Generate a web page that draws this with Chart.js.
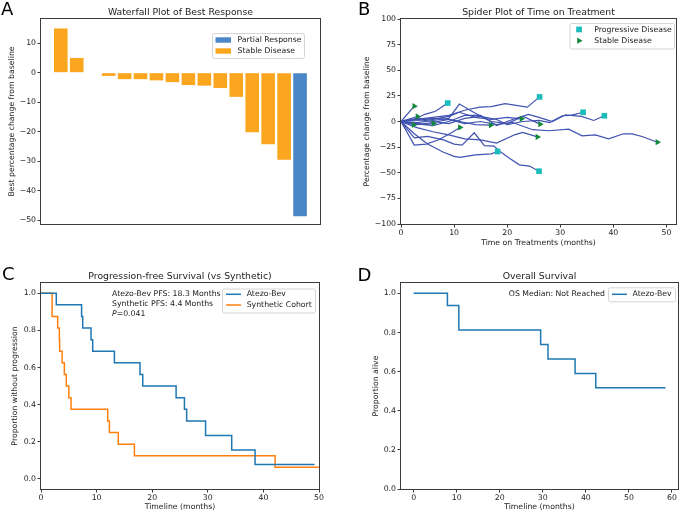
<!DOCTYPE html>
<html>
<head>
<meta charset="utf-8">
<script src="https://cdn.jsdelivr.net/npm/chart.js@4.4.1/dist/chart.umd.min.js"></script>
<style>
  html, body { margin: 0; padding: 0; background: #fff; }
  #fig { position: relative; width: 680px; height: 512px; overflow: hidden; }
  #fig canvas { position: absolute; }
</style>
</head>
<body>
<div id="fig">
  <canvas id="waterfall" width="340" height="255" style="left:0;top:0"></canvas>
  <canvas id="spider" width="340" height="255" style="left:340px;top:0"></canvas>
  <canvas id="pfs" width="340" height="257" style="left:0;top:255px"></canvas>
  <canvas id="os" width="340" height="257" style="left:340px;top:255px"></canvas>
</div>
<script>
'use strict'

/* A : waterfall (best % change, one bar per patient) */
const waterfallPct = [15, 5, 0, -1.1, -2.2, -2.2, -2.6, -3.2, -4.2, -4.4, -5.2, -8.2, -20.2, -24.3, -29.5, -48.7];
const waterfallResp = ['SD', 'SD', 'SD', 'SD', 'SD', 'SD', 'SD', 'SD', 'SD', 'SD', 'SD', 'SD', 'SD', 'SD', 'SD', 'PR'];
const waterfallTicks = [-50, -40, -30, -20, -10, 0, 10];

/* B : spider plot, months and % change per patient */
const spiderMonths = [
  [0, 2.5],
  [0, 3.1],
  [0, 2.4],
  [0, 2.5, 4.5, 6.1],
  [0, 2.5, 4.5, 6.5, 8.8],
  [0, 3, 6, 9, 12, 14.8, 17, 19.6, 23.8, 26.1],
  [0, 3, 6, 9, 12, 15, 18, 20, 23, 26, 28, 30.4, 32, 34.3],
  [0, 3, 6, 9, 12, 15, 18, 21, 24, 26, 28.5, 31, 34, 36.3, 38.3],
  [0, 3, 6, 9, 12, 15, 18, 21, 24.8, 27.9, 31.6, 34.1, 36.6, 39.1, 41.9, 43.5, 45.4, 48.3],
  [0, 3, 6, 9, 12, 15, 18, 21.4, 22.9, 25.7],
  [0, 2.5, 5, 8, 10, 11.5, 13.8, 15.7, 17.5, 18.6, 20.5, 22.3, 24.2, 26],
  [0, 2.5, 5, 8, 10, 11.1, 14, 17, 18.2],
  [0, 2.5, 4.7, 7, 9.5, 11.1],
  [0, 3, 6, 9, 12, 14, 16.9],
  [0, 3, 6, 9, 11, 14, 17, 20, 22.7],
  [0, 3, 6, 9, 11, 14, 17, 20, 23, 26.2]
];
const spiderPct = [
  [0, 15],
  [0, 4.9],
  [0, -3.2],
  [0, -2, -3, -1.9],
  [0, 2, 7, 10, 18],
  [0, 2, 4, 6, 11, 14, 14.5, 17.5, 14, 24],
  [0, 2, 0, -2, 3, 5, 2, -3, 0, 1, -1, 5.6, 6, 9],
  [0, -2, -4, 0, 6, 6, -4, 2, 7, 4, 0, 6.5, 5, 1, 5.6],
  [0, -3, -1, 2, -2, 0, -3, -1, -8, -9, -7.5, -14, -13, -17, -12, -12, -14.6, -20.2],
  [0, -6, -10, -13, -17, -18, -21, -13, -10.7, -15],
  [0, -16, -14.5, -18, -22, -23, -11, -23.5, -24, -29, -36, -42.3, -43.5, -48.5],
  [0, -12, -22, -30, -34, -35, -32.5, -31.5, -29.3],
  [0, -23, -22, -18, -11, -5.8],
  [0, 1, 3, 2, -1, -3, -3.6],
  [0, 3, 2, 5, 9, 4, 2, 4, 2.6],
  [0, -1, 1, 3, 17, 8, 0, -2, 5, -2.6]
];
const spiderEnd = ['SD', 'SD', 'SD', 'SD', 'PD', 'PD', 'PD', 'PD', 'SD', 'SD', 'PD', 'PD', 'SD', 'SD', 'SD', 'SD'];
const spiderYTicks = [-100, -75, -50, -25, 0, 25, 50, 75, 100];
const spiderXTicks = [0, 10, 20, 30, 40, 50];

/* C : progression-free survival (Kaplan-Meier) */
const pfsAtezoT = [0, 2.75, 7.3, 7.5, 9.0, 9.3, 13.2, 17.8, 18.3, 24.3, 25.8, 26.2, 29.6, 34.3, 38.5, 49.2];
const pfsAtezoS = [1, 0.9375, 0.875, 0.8125, 0.75, 0.6875, 0.625, 0.5625, 0.5, 0.4375, 0.375, 0.3125, 0.234, 0.156, 0.078, 0.078];
const pfsSynthT = [0, 2.0, 3.0, 3.3, 3.35, 3.8, 4.2, 4.55, 5.0, 5.4, 12.0, 12.3, 13.9, 16.8, 42.1, 50];
const pfsSynthS = [1, 0.875, 0.8125, 0.75, 0.6875, 0.625, 0.5625, 0.5, 0.4375, 0.375, 0.3125, 0.25, 0.1875, 0.125, 0.0625, 0.0625];
const pfsXTicks = [0, 10, 20, 30, 40, 50];

/* D : overall survival */
const osT = [0, 7.85, 10.5, 29.5, 31.2, 37.5, 42.3, 58.5];
const osS = [1, 0.9375, 0.8125, 0.7386, 0.6648, 0.5909, 0.517, 0.517];
const osXTicks = [0, 10, 20, 30, 40, 50, 60];

const survTicks = [0, 0.2, 0.4, 0.6, 0.8, 1.0];

const FONT = '"DejaVu Sans", sans-serif';
const INK = '#222';
const SPINE = '#3a3a3a';
const respColor = { PR: '#4a86c8', SD: '#fba61f' };
const BLUE = '#1f77b4', ORANGE = '#ff7f0e';

function minus(v) { return String(v).replace('-', '\u2212'); }

function axis(o) {
  return {
    type: 'linear', min: o.min, max: o.max, offset: false,
    afterBuildTicks: s => { s.ticks = o.ticks.map(v => ({ value: v })); },
    afterFit: s => { if (s.isHorizontal()) s.height = o.size; else s.width = o.size; },
    grid: { offset: false, drawOnChartArea: false, drawTicks: true, tickLength: 3.5, color: SPINE, lineWidth: 1 },
    border: { display: false },
    ticks: {
      font: { family: FONT, size: 7.75 }, color: INK, padding: o.pad,
      autoSkip: false, maxRotation: 0, callback: o.fmt || (v => minus(v))
    },
    title: { display: true, text: o.title || '', font: { family: FONT, size: 7.75 }, color: INK, padding: 0 }
  };
}

function txt(ctx, s, x, y, align, size) {
  ctx.font = (size || 7.75) + 'px ' + FONT;
  ctx.fillStyle = INK;
  ctx.textAlign = align || 'left';
  ctx.textBaseline = 'middle';
  ctx.fillText(s, x, y);
}

function legendBox(ctx, x, y, w, h) {
  ctx.save();
  ctx.fillStyle = 'rgba(255,255,255,0.8)';
  ctx.strokeStyle = '#d4d4d4';
  ctx.lineWidth = 1;
  ctx.beginPath();
  if (ctx.roundRect) ctx.roundRect(x + 0.5, y + 0.5, w, h, 2); else ctx.rect(x + 0.5, y + 0.5, w, h);
  ctx.fill();
  ctx.stroke();
  ctx.restore();
}

function hline(ctx, x1, x2, y, color) {
  ctx.strokeStyle = color; ctx.lineWidth = 1.5;
  ctx.beginPath(); ctx.moveTo(x1, y); ctx.lineTo(x2, y); ctx.stroke();
}

function triRight(ctx, cx, cy, r, color) {
  ctx.fillStyle = color;
  ctx.beginPath();
  ctx.moveTo(cx + r, cy);
  ctx.lineTo(cx - r / 2, cy - r * 0.866);
  ctx.lineTo(cx - r / 2, cy + r * 0.866);
  ctx.closePath();
  ctx.fill();
}

/* frame + title + panel letter + legend */
function decor(letter, lx, ly, title, extra) {
  return {
    id: 'decor',
    afterDraw(chart) {
      const ctx = chart.ctx, a = chart.chartArea;
      ctx.save();
      ctx.strokeStyle = SPINE; ctx.lineWidth = 1;
      ctx.strokeRect(Math.round(a.left) - 0.5, Math.round(a.top) - 0.5,
        Math.round(a.right - a.left) + 1, Math.round(a.bottom - a.top) + 1);
      ctx.font = '9.3px ' + FONT;
      ctx.fillStyle = INK; ctx.textAlign = 'center'; ctx.textBaseline = 'alphabetic';
      ctx.fillText(title, (a.left + a.right) / 2, a.top - 4.3);
      ctx.font = '18px ' + FONT;
      ctx.fillStyle = '#000'; ctx.textAlign = 'left';
      ctx.fillText(letter, lx, ly);
      if (extra) extra(ctx, a);
      ctx.restore();
    }
  };
}

const base = { responsive: false, devicePixelRatio: 1, animation: false, events: [],
  plugins: { legend: { display: false }, tooltip: { enabled: false } } };

/* ---- A ---- */
new Chart(document.getElementById('waterfall'), {
  type: 'bar',
  data: {
    datasets: [{
      data: waterfallPct.map((v, i) => ({ x: i, y: v })),
      backgroundColor: waterfallResp.map(r => respColor[r]),
      borderWidth: 0, barThickness: 13.6, inflateAmount: 0
    }]
  },
  options: Object.assign({}, base, {
    layout: { padding: { left: 7, top: 19, right: 20, bottom: 31 } },
    scales: {
      x: { type: 'linear', display: false, min: -1.24, max: 16.25, offset: false, grid: { offset: false } },
      y: axis({ min: -51.3, max: 18.2, ticks: waterfallTicks, size: 34, pad: 1.5, title: 'Best percentage change from baseline' })
    }
  }),
  plugins: [decor('A', 1, 15, 'Waterfall Plot of Best Response', (ctx) => {
    legendBox(ctx, 212, 33, 92, 25);
    ctx.fillStyle = respColor.PR; ctx.fillRect(215.5, 37.3, 15.5, 5.4);
    ctx.fillStyle = respColor.SD; ctx.fillRect(215.5, 48.3, 15.5, 5.4);
    txt(ctx, 'Partial Response', 237.5, 40.2);
    txt(ctx, 'Stable Disease', 237.5, 51.2);
  })]
});

/* ---- B ---- */
const LINE = '#4052b0', PD_COL = '#1cbcbc', SD_COL = '#13883b';
const spiderLines = spiderMonths.map((t, i) => ({
  data: t.map((m, j) => ({ x: m, y: spiderPct[i][j] })),
  showLine: true, borderColor: LINE, borderWidth: 1.2, pointRadius: 0, tension: 0
}));
const pdPts = [], sdPts = [];
spiderMonths.forEach((t, i) => {
  const k = t.length - 1;
  (spiderEnd[i] === 'PD' ? pdPts : sdPts).push({ x: t[k], y: spiderPct[i][k] });
});

new Chart(document.getElementById('spider'), {
  type: 'scatter',
  data: {
    datasets: spiderLines.concat([
      { data: pdPts, pointStyle: 'rect', pointRadius: 4, backgroundColor: PD_COL, borderWidth: 0, order: -1 },
      { data: sdPts, pointStyle: 'triangle', rotation: 90, pointRadius: 3.6, backgroundColor: SD_COL, borderWidth: 0, order: -1 }
    ])
  },
  options: Object.assign({}, base, {
    layout: { padding: { left: 22, top: 19, right: 2, bottom: 7 } },
    scales: {
      x: axis({ min: 0, max: 51.8, ticks: spiderXTicks, size: 24, pad: 1, title: 'Time on Treatments (months)' }),
      y: axis({ min: -100, max: 100, ticks: spiderYTicks, size: 39, pad: 1.5, title: 'Percentage change from baseline' })
    }
  }),
  plugins: [decor('B', 18, 15, 'Spider Plot of Time on Treatment', (ctx) => {
    legendBox(ctx, 229.5, 23, 104.5, 25.5);
    ctx.fillStyle = PD_COL; ctx.fillRect(236.2, 26.6, 5.7, 5.7);
    triRight(ctx, 239, 40.7, 3.6, SD_COL);
    txt(ctx, 'Progressive Disease', 254.3, 29.6);
    txt(ctx, 'Stable Disease', 254.3, 40.8);
  })]
});

/* ---- C ---- */
const km = (t, s) => t.map((x, i) => ({ x: x, y: s[i] }));
const fmt1 = v => v.toFixed(1);

new Chart(document.getElementById('pfs'), {
  type: 'scatter',
  data: {
    datasets: [
      { data: km(pfsAtezoT, pfsAtezoS), showLine: true, stepped: 'before', borderColor: BLUE, borderWidth: 1.5, pointRadius: 0 },
      { data: km(pfsSynthT, pfsSynthS), showLine: true, stepped: 'before', borderColor: ORANGE, borderWidth: 1.5, pointRadius: 0 }
    ]
  },
  options: Object.assign({}, base, {
    layout: { padding: { left: 10, top: 28, right: 21, bottom: 0 } },
    scales: {
      x: axis({ min: 0, max: 50, ticks: pfsXTicks, size: 23, pad: 1, title: 'Timeline (months)' }),
      y: axis({ min: -0.054, max: 1.055, ticks: survTicks, size: 31, pad: 1.5, fmt: fmt1, title: 'Proportion without progression' })
    }
  }),
  plugins: [decor('C', 2, 24.5, 'Progression-free Survival (vs Synthetic)', (ctx) => {
    txt(ctx, 'Atezo-Bev PFS: 18.3 Months', 112, 39.3);
    txt(ctx, 'Synthetic PFS: 4.4 Months', 112, 49);
    ctx.font = 'italic 7.75px ' + FONT;
    ctx.fillText('P', 112, 58.7);
    const pw = ctx.measureText('P').width;
    txt(ctx, '=0.041', 112 + pw, 58.7);
    legendBox(ctx, 222, 33.5, 93, 24);
    hline(ctx, 226, 241, 39.3, BLUE);
    hline(ctx, 226, 241, 50, ORANGE);
    txt(ctx, 'Atezo-Bev', 246.7, 39.3);
    txt(ctx, 'Synthetic Cohort', 246.7, 50);
  })]
});

/* ---- D ---- */
new Chart(document.getElementById('os'), {
  type: 'scatter',
  data: {
    datasets: [
      { data: km(osT, osS), showLine: true, stepped: 'before', borderColor: BLUE, borderWidth: 1.5, pointRadius: 0 }
    ]
  },
  options: Object.assign({}, base, {
    layout: { padding: { left: 31, top: 28, right: 2, bottom: 0 } },
    scales: {
      x: axis({ min: -2.93, max: 61.4, ticks: osXTicks, size: 23, pad: 1, title: 'Timeline (months)' }),
      y: axis({ min: 0, max: 1.053, ticks: survTicks, size: 30, pad: 1.5, fmt: fmt1, title: 'Proportion alive' })
    }
  }),
  plugins: [decor('D', 17.5, 25.5, 'Overall Survival', (ctx) => {
    txt(ctx, 'OS Median: Not Reached', 265, 39.3, 'right');
    legendBox(ctx, 268, 32.3, 67, 14);
    hline(ctx, 272, 287, 39.3, BLUE);
    txt(ctx, 'Atezo-Bev', 292.5, 39.3);
  })]
});
</script>
</body>
</html>
